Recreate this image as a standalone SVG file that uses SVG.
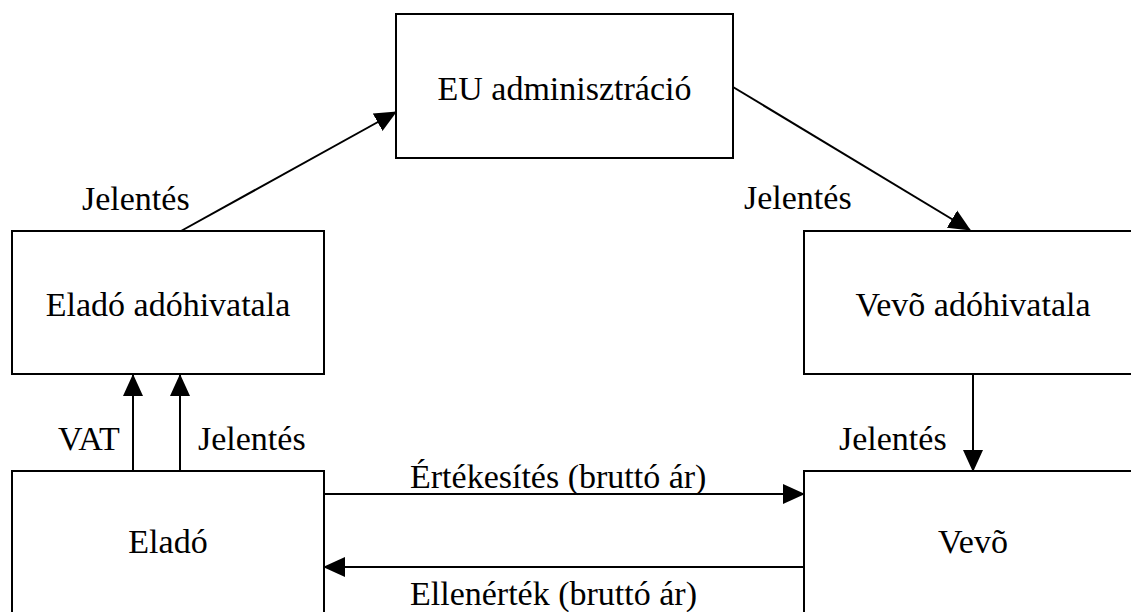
<svg xmlns="http://www.w3.org/2000/svg" width="1131" height="612" viewBox="0 0 1131 612">
<defs>
<style>
.box{fill:#fff;stroke:#000;stroke-width:2}
.ln{stroke:#000;stroke-width:2;fill:none}
text{font-family:"Liberation Serif","Times New Roman",serif;font-size:34px;fill:#000}
.c{text-anchor:middle}
</style>
<marker id="ah" markerUnits="userSpaceOnUse" markerWidth="22" markerHeight="22" viewBox="0 0 22 22" refX="21" refY="11" orient="auto">
<path d="M0,1 L22,11 L0,21 Z" fill="#000"/>
</marker>
</defs>
<rect width="1131" height="612" fill="#fff"/>
<g id="connectors">
<line class="ln" x1="133" y1="471" x2="133" y2="375" marker-end="url(#ah)"/>
<line class="ln" x1="180" y1="471" x2="180" y2="375" marker-end="url(#ah)"/>
<line class="ln" x1="181" y1="231" x2="396" y2="112" marker-end="url(#ah)"/>
<line class="ln" x1="733" y1="87" x2="970" y2="230" marker-end="url(#ah)"/>
<line class="ln" x1="973" y1="374" x2="973" y2="471" marker-end="url(#ah)"/>
<line class="ln" x1="324" y1="494" x2="804" y2="494" marker-end="url(#ah)"/>
<line class="ln" x1="804" y1="567" x2="324" y2="567" marker-end="url(#ah)"/>
<text x="82" y="210">Jelentés</text>
<text x="744" y="209">Jelentés</text>
<text x="58" y="450">VAT</text>
<text x="198" y="450">Jelentés</text>
<text x="839" y="450">Jelentés</text>
<text x="410" y="488">Értékesítés (bruttó ár)</text>
<text x="410" y="605">Ellenérték (bruttó ár)</text>
</g>
<g id="eu">
<rect class="box" x="396" y="14" width="337" height="144"/>
<text class="c" x="564.5" y="100">EU adminisztráció</text>
</g>
<g id="elado-adohivatala">
<rect class="box" x="12" y="231" width="312" height="143"/>
<text class="c" x="168" y="316">Eladó adóhivatala</text>
</g>
<g id="vevo-adohivatala">
<rect class="box" x="804" y="231" width="338" height="143"/>
<text class="c" x="973" y="316">Vevõ adóhivatala</text>
</g>
<g id="elado">
<rect class="box" x="12" y="471" width="312" height="150"/>
<text class="c" x="168" y="553">Eladó</text>
</g>
<g id="vevo">
<rect class="box" x="804" y="471" width="338" height="150"/>
<text class="c" x="973" y="553">Vevõ</text>
</g>
</svg>
